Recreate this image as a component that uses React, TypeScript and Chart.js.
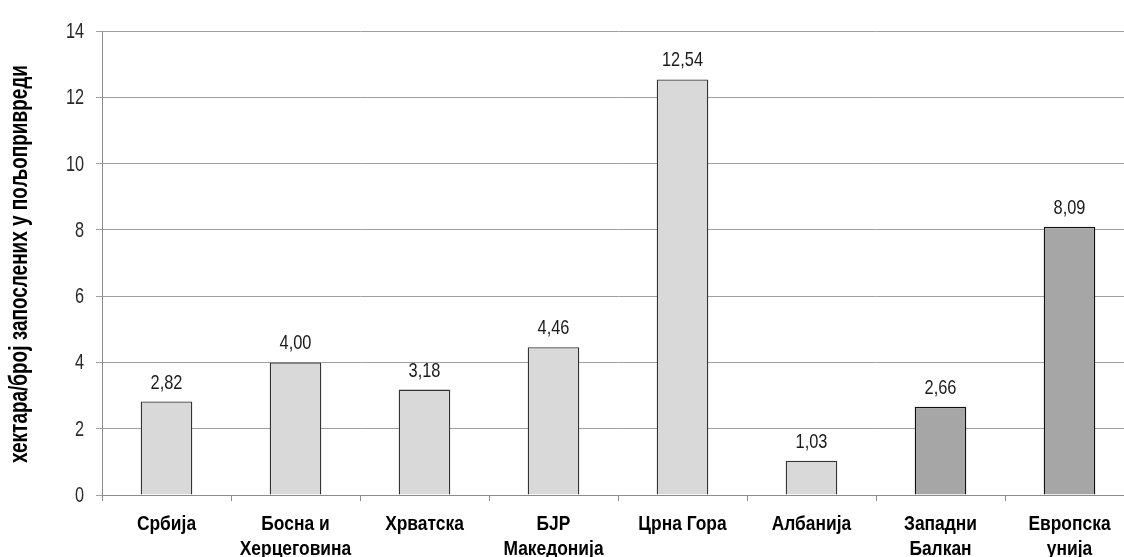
import React, { useEffect, useRef } from "react";
import { Chart, registerables } from "chart.js";

Chart.register(...registerables);

const categories: string[][] = [
  ["Србија"],
  ["Босна и", "Херцеговина"],
  ["Хрватска"],
  ["БЈР", "Македонија"],
  ["Црна Гора"],
  ["Албанија"],
  ["Западни", "Балкан"],
  ["Европска", "унија"],
];
const values: number[] = [2.82, 4.0, 3.18, 4.46, 12.54, 1.03, 2.66, 8.09];
const isAggregate: boolean[] = [false, false, false, false, false, false, true, true];
const yTitle = "хектара/број запослених у пољопривреди";
const yMin = 0;
const yMax = 14;
const yStep = 2;

const FONT = '"Liberation Sans", Arial, sans-serif';

const fmt = (v: number) => v.toFixed(2).replace(".", ",");

// draw condensed text (emulating a narrow font) horizontally scaled
function narrowText(
  ctx: CanvasRenderingContext2D,
  text: string,
  x: number,
  y: number,
  sx: number,
  align: CanvasTextAlign
) {
  ctx.save();
  ctx.translate(x, y);
  ctx.scale(sx, 1);
  ctx.textAlign = align;
  ctx.fillText(text, 0, 0);
  ctx.restore();
}

const narrowLabels = {
  id: "narrowLabels",
  afterDraw(chart: any) {
    const ctx: CanvasRenderingContext2D = chart.ctx;
    const xs = chart.scales.x;
    const ys = chart.scales.y;
    ctx.save();
    ctx.textBaseline = "alphabetic";

    // y tick labels
    ctx.font = `22px ${FONT}`;
    ctx.fillStyle = "#2a2a2a";
    for (let v = yMin; v <= yMax; v += yStep) {
      narrowText(ctx, String(v), 84, ys.getPixelForValue(v) + 7, 0.74, "right");
    }

    // value labels
    ctx.font = `21px ${FONT}`;
    ctx.fillStyle = "#1a1a1a";
    const meta = chart.getDatasetMeta(0);
    meta.data.forEach((bar: any, i: number) => {
      narrowText(ctx, fmt(values[i]), bar.x, bar.y - 13, 0.78, "center");
    });

    // x category labels
    ctx.font = `bold 20px ${FONT}`;
    ctx.fillStyle = "#000";
    categories.forEach((lines, i) => {
      const cx = xs.getPixelForValue(i);
      lines.forEach((ln, j) => {
        narrowText(ctx, ln, cx, 530 + j * 25, 0.87, "center");
      });
    });

    // y axis title
    ctx.font = `bold 25px ${FONT}`;
    const w = ctx.measureText(yTitle).width;
    const target = 398;
    ctx.save();
    ctx.translate(27, (chart.chartArea.top + chart.chartArea.bottom) / 2 + 1);
    ctx.rotate(-Math.PI / 2);
    ctx.scale(target / w, 1);
    ctx.textAlign = "center";
    ctx.fillText(yTitle, 0, 0);
    ctx.restore();

    ctx.restore();
  },
};

export default function App() {
  const ref = useRef<HTMLCanvasElement | null>(null);
  useEffect(() => {
    if (!ref.current) return;
    const chart = new Chart(ref.current, {
      type: "bar",
      data: {
        labels: categories.map((c) => c.join(" ")),
        datasets: [
          {
            data: values,
            backgroundColor: isAggregate.map((a) => (a ? "#a6a6a6" : "#d9d9d9")),
            borderColor: isAggregate.map((a) => (a ? "#111111" : "#333333")),
            borderWidth: 1.3,
            barPercentage: 0.4,
            categoryPercentage: 1.0,
          },
        ],
      },
      options: {
        responsive: false,
        animation: false,
        layout: { padding: { top: 31, right: 6, bottom: 0, left: 0 } },
        plugins: {
          legend: { display: false },
          tooltip: { enabled: false },
          title: { display: false },
        },
        scales: {
          x: {
            grid: {
              drawOnChartArea: false,
              drawTicks: true,
              tickLength: 6,
              color: "#8c8c8c",
              offset: true,
            },
            border: { color: "#8c8c8c", width: 1 },
            ticks: { display: false, autoSkip: false, maxRotation: 0 },
            afterFit(scale: any) {
              scale.height = 62;
            },
          },
          y: {
            min: yMin,
            max: yMax,
            grid: { color: "#a0a0a0", tickLength: 6, lineWidth: 1 },
            border: { color: "#8c8c8c", width: 1 },
            ticks: { stepSize: yStep, display: false },
            title: { display: false },
            afterFit(scale: any) {
              scale.width = 102;
            },
          },
        },
      },
      plugins: [narrowLabels],
    });
    return () => chart.destroy();
  }, []);
  return (
    <div
      style={{
        position: "absolute",
        left: 0,
        top: 0,
        width: 1124,
        height: 557,
        overflow: "hidden",
        background: "#fff",
      }}
    >
      <canvas ref={ref} width={1140} height={557} style={{ display: "block" }} />
    </div>
  );
}
